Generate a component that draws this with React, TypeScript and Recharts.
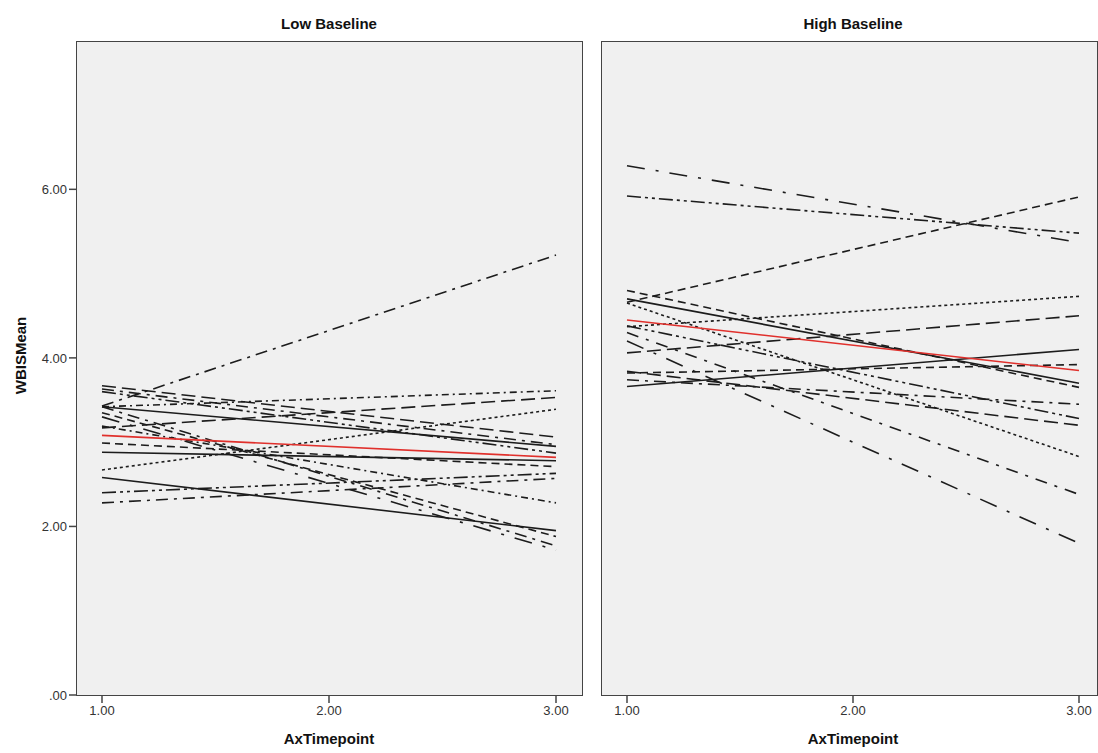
import React from 'react';
import { LineChart, Line, XAxis, YAxis, CartesianGrid } from 'recharts';

document.body.style.margin = '0';

const timepoints = [1, 3];
const xTicks = [1, 2, 3];
const yTicks = [0, 2, 4, 6];
const panelTitles = ['Low Baseline', 'High Baseline'];

// WBISMean at timepoint 1.00 and 3.00, one entry per participant
const lowAt1 = [3.43, 3.67, 3.63, 3.6, 3.42, 3.17, 2.67, 3.42, 2.88, 2.99, 2.4, 2.28, 3.19, 2.58, 3.35, 3.42, 3.3];
const lowAt3 = [5.22, 3.06, 2.97, 2.87, 3.61, 3.53, 3.39, 2.95, 2.78, 2.71, 2.63, 2.57, 2.28, 1.95, 1.88, 1.77, 1.72];
const lowMean = [3.08, 2.82];

const highAt1 = [6.28, 5.92, 4.66, 4.37, 4.06, 3.66, 3.82, 4.7, 4.8, 3.74, 4.38, 3.84, 4.65, 4.3, 4.2];
const highAt3 = [5.37, 5.48, 5.91, 4.73, 4.5, 4.1, 3.92, 3.7, 3.65, 3.45, 3.28, 3.2, 2.83, 2.38, 1.8];
const highMean = [4.45, 3.85];

const SOLID = '';
const LONG = '14 6';
const DASH = '8 5';
const DOT = '3 3';
const DASHDOT = '12 6 3 6';
const DASHDOTDOT = '14 4 3 4 3 4';
const LONGDOT = '18 11 3 11';
const SHORTDOT = '7 4 2 4';

const lowDash = [DASHDOT, LONG, DASHDOT, DASHDOTDOT, SHORTDOT, LONG, DOT, SOLID, SOLID, DASH, DASHDOTDOT, DASHDOT, SHORTDOT, SOLID, DASH, DASHDOT, LONGDOT];
const highDash = [LONGDOT, DASHDOTDOT, DASH, DOT, LONG, SOLID, DASH, SOLID, DASH, DASHDOT, DASHDOTDOT, LONG, DOT, '12 8 3 8', LONGDOT];

const buildRows = (at1: number[], at3: number[], mean: number[]) =>
  timepoints.map((t, i) => {
    const row: Record<string, number> = { x: t, mean: mean[i] };
    (i === 0 ? at1 : at3).forEach((v, k) => (row[`p${k}`] = v));
    return row;
  });

const lowRows = buildRows(lowAt1, lowAt3, lowMean);
const highRows = buildRows(highAt1, highAt3, highMean);

const FONT = '"Liberation Sans", Arial, sans-serif';
const BORDER = '#444';
const tickStyle = { fill: '#333', fontSize: 13, fontFamily: FONT };
const fmt = (v: number) => (v === 0 ? '.00' : v.toFixed(2));

type PanelProps = {
  rows: Record<string, number>[];
  count: number;
  dashes: string[];
  width: number;
  margin: { top: number; right: number; bottom: number; left: number };
  showY: boolean;
  padding: { left: number; right: number };
};

const Panel = ({ rows, count, dashes, width, margin, showY, padding }: PanelProps) => (
  <LineChart width={width} height={753} data={rows} margin={margin}>
    <CartesianGrid fill="#f0f0f0" horizontal={false} vertical={false} />
    <XAxis
      dataKey="x"
      type="number"
      domain={[1, 3]}
      ticks={xTicks}
      tickFormatter={(v: number) => v.toFixed(2)}
      padding={padding}
      height={30}
      tickSize={8}
      tickMargin={3}
      tick={tickStyle}
      axisLine={false}
      stroke={BORDER}
      strokeWidth={1.5}
    />
    <YAxis
      type="number"
      domain={[0, 7.76]}
      ticks={yTicks}
      allowDataOverflow
      tickFormatter={fmt}
      width={showY ? 40 : 0}
      tick={showY ? tickStyle : false}
      tickLine={showY}
      axisLine={false}
      tickSize={8}
      tickMargin={2}
      stroke={BORDER}
      strokeWidth={1.5}
    />
    {Array.from({ length: count }, (_, k) => (
      <Line
        key={k}
        dataKey={`p${k}`}
        stroke="#1c1c1c"
        strokeWidth={1.6}
        strokeDasharray={dashes[k]}
        dot={false}
        isAnimationActive={false}
      />
    ))}
    <Line dataKey="mean" stroke="#e0302c" strokeWidth={1.6} dot={false} isAnimationActive={false} />
  </LineChart>
);

const frame = (left: number, width: number) => ({
  position: 'absolute' as const,
  left,
  top: 41,
  width,
  height: 655,
  border: `1.5px solid ${BORDER}`,
  boxSizing: 'border-box' as const,
  pointerEvents: 'none' as const,
});

const App = () => {
  const bold = { position: 'absolute' as const, fontFamily: FONT, fontWeight: 'bold' as const, fontSize: 15, color: '#111', textAlign: 'center' as const, width: 200 };
  return (
    <div style={{ position: 'relative', width: 1098, height: 753, overflow: 'hidden', background: '#fff' }}>
      <div style={{ ...bold, left: 229, top: 15 }}>{panelTitles[0]}</div>
      <div style={{ ...bold, left: 753, top: 15 }}>{panelTitles[1]}</div>
      <div style={{ ...bold, left: 229, top: 730 }}>AxTimepoint</div>
      <div style={{ ...bold, left: 753, top: 730 }}>AxTimepoint</div>
      <div style={{ ...bold, left: -80, top: 347, transform: 'rotate(-90deg)' }}>WBISMean</div>
      <div style={{ position: 'absolute', left: 0, top: 0 }}>
        <Panel rows={lowRows} count={lowAt1.length} dashes={lowDash} width={590} margin={{ top: 41, right: 8, bottom: 28, left: 37 }} showY padding={{ left: 25, right: 26 }} />
      </div>
      <div style={{ position: 'absolute', left: 590, top: 0 }}>
        <Panel rows={highRows} count={highAt1.length} dashes={highDash} width={508} margin={{ top: 41, right: 1, bottom: 28, left: 12 }} showY={false} padding={{ left: 25, right: 18 }} />
      </div>
      <div style={frame(76, 507)} />
      <div style={frame(601, 497)} />
    </div>
  );
};

export default App;
